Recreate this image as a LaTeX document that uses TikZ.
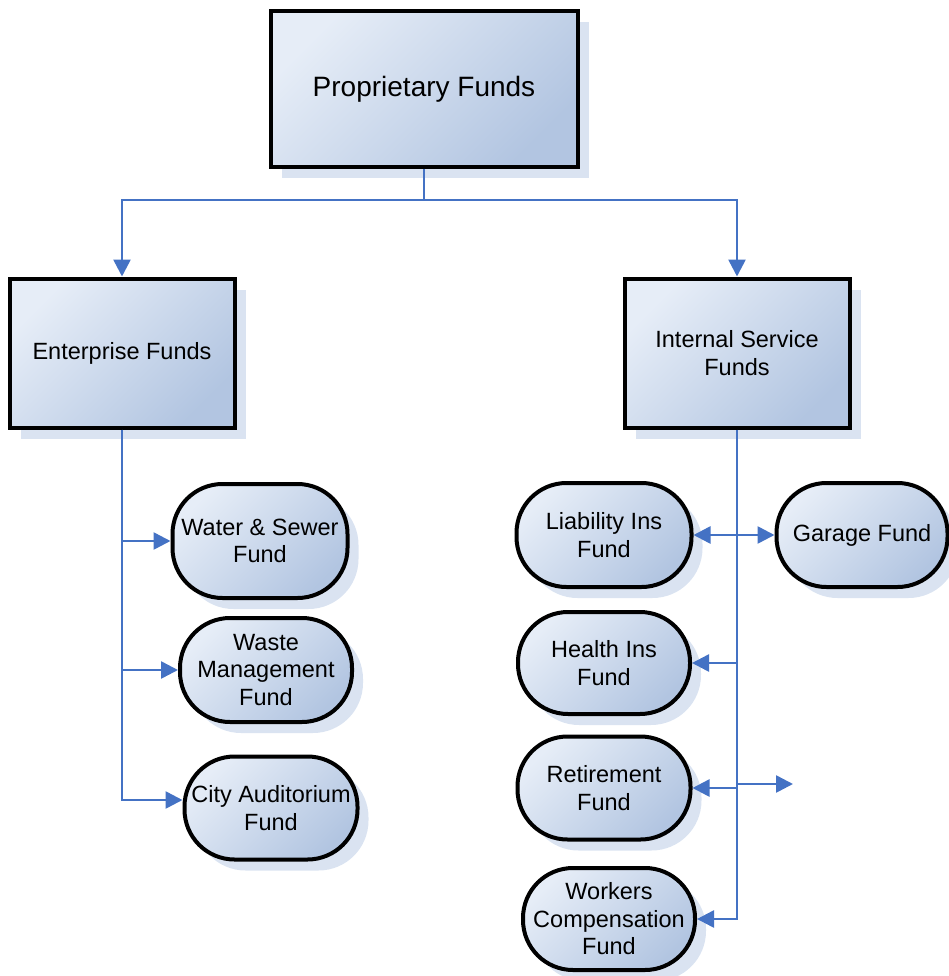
\documentclass[tikz,border=0pt]{standalone}
\usepackage{fontspec}
\setmainfont{Liberation Sans}
\usetikzlibrary{arrows.meta,shadows}
\definecolor{boxlight}{HTML}{E6EDF7}
\definecolor{boxdark}{HTML}{B2C5E1}
\definecolor{shadowblue}{HTML}{DAE3F1}
\definecolor{linkblue}{HTML}{4472C4}
\tikzset{
        bigbox/.style={draw=black, line width=4pt, inner sep=0pt, align=center,
          top color=boxlight, bottom color=boxdark, shading angle=45,
          drop shadow={shadow xshift=11pt, shadow yshift=-11pt, fill=shadowblue, opacity=1},
          font=\fontsize{23.5}{27.5}\selectfont},
        pill/.style={bigbox, rounded corners=50pt, minimum width=173pt, minimum height=104pt},
        link/.style={draw=linkblue, line width=2.6pt, -{Triangle[length=17pt,width=17pt]}},
        twoway/.style={link, {Triangle[length=17pt,width=17pt]}-{Triangle[length=17pt,width=17pt]}}
          }
\begin{document}
\begin{tikzpicture}[x=1pt, y=-1pt]
        \useasboundingbox (0,0) rectangle (949,976);
        \node[bigbox, minimum width=307pt, minimum height=156pt, font=\fontsize{28}{33}\selectfont] (prop) at (424,89) {Proprietary Funds};
        \node[bigbox, minimum width=225pt, minimum height=149pt] (ent) at (122,353) {Enterprise Funds};
        \node[bigbox, minimum width=225pt, minimum height=149pt] (isf) at (737,353) {Internal Service\\Funds};
        \node[pill, minimum width=175pt, minimum height=114pt] (water) at (260,541) {Water \& Sewer\\Fund};
        \node[pill, minimum width=172pt] (waste) at (266,670) {Waste\\Management\\Fund};
        \node[pill, minimum height=103pt] (city) at (271,808) {City Auditorium\\Fund};
        \node[pill, minimum width=175pt] (liab) at (604,535) {Liability Ins\\Fund};
        \node[pill, minimum width=171pt] (garage) at (862,535) {Garage Fund};
        \node[pill, minimum width=172pt, minimum height=102pt] (health) at (604,663) {Health Ins\\Fund};
        \node[pill, minimum height=103pt] (retire) at (604,788) {Retirement\\Fund};
        \node[pill, minimum width=172pt, minimum height=102pt] (workers) at (609,919) {Workers\\Compensation\\Fund};
        \coordinate (loose) at (793,784);
        \draw[link] (prop.south) -- ++(0,31) -| (ent.north);
        \draw[link] (prop.south) -- ++(0,31) -| (isf.north);
        \draw[link] (ent.south) |- (water.west);
        \draw[link] (ent.south) |- (waste.west);
        \draw[link] (ent.south) |- ([yshift=8pt]city.west);
        \draw[link] (isf.south) |- (workers.east);
        \draw[twoway] (liab.east) -- (garage.west);
        \draw[link] (isf.south |- health.east) -- (health.east);
        \draw[link] (isf.south |- retire.east) -- (retire.east);
        \draw[link] (isf.south |- loose) -- (loose);
      \end{tikzpicture}
\end{document}
